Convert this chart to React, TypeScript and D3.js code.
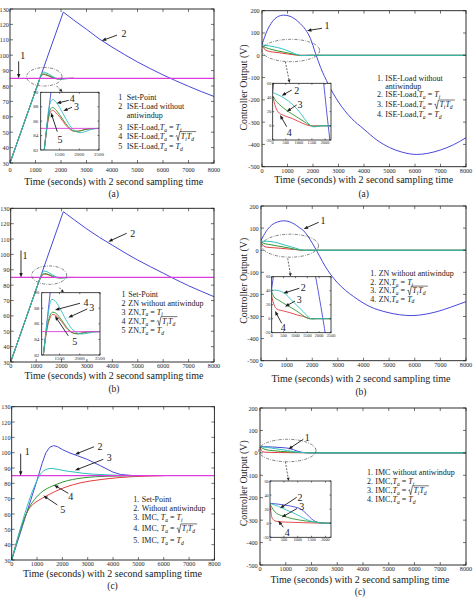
import React, { useLayoutEffect, useRef, useState } from "react";
import * as d3 from "d3";

type Pt = [number, number];
type Box = { x: number; y: number; w: number; h: number };

const FONT = "'Liberation Serif', 'Times New Roman', 'DejaVu Serif', serif";
const INK = "#1a1a1a";

// ---------------- ticks ----------------
const timeTicks = [0, 1000, 2000, 3000, 4000, 5000, 6000, 7000, 8000];
const tempTicks = [30, 40, 50, 60, 70, 80, 90, 100, 110, 120, 130];
const voltTicks = [-500, -400, -300, -200, -100, 0, 100, 200];
const tempZoomTicks = [82, 84, 86, 88, 90];
const tempZoomTimeTicks = [1500, 2000, 2500];
const voltZoomTicks = [-20, 0, 20, 40, 60];
const voltZoomTimeTicks = [0, 500, 1000, 1500, 2000];
const voltZoomTimeTicksLong = [0, 500, 1000, 1500, 2000, 2500];

// ---------------- set-point ----------------
const setPoint: Pt[] = [[0, 85], [8000, 85]];

// ---------------- (a) ISE-Load tuning ----------------
const iseTempNoAW: Pt[] = [[0, 30], [2090, 128], [2500, 122.8], [3000, 116.8], [3500, 110.6], [4000, 105.3], [4500, 100.3], [5000, 95.6], [5500, 91.3], [6000, 87.2], [6500, 83.4], [7000, 79.8], [7500, 76.4], [8000, 73.2]];
const iseTempTi: Pt[] = [[0, 30], [1000, 76.9], [1100, 81.5], [1160, 84.6], [1215, 87.3], [1265, 88.6], [1320, 89.0], [1400, 88.7], [1500, 87.9], [1650, 86.4], [1800, 85.1], [1920, 84.55], [2020, 84.4], [2150, 84.55], [2300, 84.85], [2500, 85]];
const iseTempTiTd: Pt[] = [[0, 30], [1000, 76.9], [1100, 81.5], [1160, 84.4], [1215, 86.6], [1270, 87.7], [1320, 87.9], [1400, 87.6], [1500, 86.9], [1650, 85.7], [1780, 84.9], [1880, 84.6], [1980, 84.6], [2120, 84.8], [2300, 84.95], [2500, 85]];
const iseTempTd: Pt[] = [[0, 30], [1000, 76.9], [1100, 81.5], [1160, 84.3], [1215, 86.3], [1270, 87.3], [1320, 87.5], [1400, 87.2], [1500, 86.6], [1650, 85.5], [1780, 84.8], [1880, 84.6], [1980, 84.62], [2120, 84.82], [2300, 84.95], [2500, 85]];

const iseVoltNoAW: Pt[] = [[0, 48], [200, 110], [400, 150], [600, 172], [850, 180], [1100, 175], [1300, 162], [1500, 142], [1700, 116], [1900, 75], [2100, 8], [2300, -55], [2600, -130], [3000, -210], [3500, -282], [4000, -332], [4500, -380], [5000, -414], [5500, -435], [6070, -445], [6500, -440], [7000, -425], [7500, -402], [8000, -370]];
const iseVoltTi: Pt[] = [[0, 47], [300, 42], [600, 35], [900, 25], [1100, 16], [1300, 6], [1450, 0.5], [1550, -1.5], [1700, -1], [1850, 0], [8000, 0]];
const iseVoltTiTd: Pt[] = [[0, 42], [150, 34], [350, 27], [600, 20], [900, 13], [1200, 6], [1400, 1.2], [1550, -0.8], [1700, -0.5], [1850, 0], [8000, 0]];
const iseVoltTd: Pt[] = [[0, 42], [80, 30], [200, 20], [400, 15], [700, 11], [1000, 6], [1250, 2], [1450, 0], [8000, 0]];

// ---------------- (b) Ziegler-Nichols tuning ----------------
const znTempNoAW: Pt[] = [[0, 30], [2070, 127.8], [2500, 122.5], [3000, 116.5], [3500, 111], [4000, 106], [4500, 101], [5000, 96.3], [5500, 92], [6000, 87.8], [6500, 83.6], [7000, 79.6], [7500, 76], [8000, 72.5]];
const znTempTi: Pt[] = [[0, 30], [1000, 77.25], [1110, 82.4], [1180, 85.6], [1245, 88.1], [1310, 89.15], [1380, 89.0], [1500, 88.1], [1650, 86.6], [1800, 85.4], [1950, 84.8], [2050, 84.7], [2200, 84.8], [2350, 84.95], [2500, 85]];
const znTempTiTd: Pt[] = [[0, 30], [1000, 77.25], [1110, 82.4], [1180, 85.2], [1260, 87.0], [1330, 87.5], [1400, 87.4], [1550, 86.5], [1700, 85.4], [1850, 84.8], [1950, 84.7], [2100, 84.85], [2300, 85], [2500, 85]];
const znTempTd: Pt[] = [[0, 30], [1000, 77.25], [1110, 82.4], [1180, 85.0], [1260, 86.7], [1330, 87.2], [1400, 87.1], [1550, 86.3], [1700, 85.3], [1850, 84.8], [1950, 84.75], [2100, 84.9], [2300, 85], [2500, 85]];

const znVoltNoAW: Pt[] = [[0, 44], [200, 85], [400, 112], [650, 128], [885, 133], [1100, 129], [1300, 118], [1500, 102], [1665, 88], [1850, 60], [2000, 32], [2150, 2], [2300, -30], [2500, -72], [2966, -145], [3300, -182], [3617, -210], [4265, -256], [4917, -281], [5400, -292], [5890, -296], [6400, -290], [6868, -278], [7400, -258], [8000, -233]];
const znVoltTi: Pt[] = [[0, 41], [200, 40.5], [490, 37.5], [910, 24], [1332, 10], [1615, 0.6], [1750, -0.6], [1900, 0], [8000, 0]];
const znVoltTiTd: Pt[] = [[0, 38], [100, 31], [280, 26.7], [632, 19.5], [1054, 11], [1475, 1.4], [1620, -0.3], [1800, 0], [8000, 0]];
const znVoltTd: Pt[] = [[0, 32], [100, 20], [211, 14], [500, 11], [772, 8.6], [1100, 5], [1332, 3.3], [1550, 0.5], [1700, 0], [8000, 0]];

// ---------------- (c) IMC tuning ----------------
const imcTempNoAW: Pt[] = [[0, 30], [1000, 82], [1200, 93], [1350, 100], [1500, 103.5], [1650, 104.6], [1800, 104], [2000, 102], [2300, 99.8], [2600, 98], [3000, 95.5], [3500, 91.5], [4000, 87.3], [4300, 85.8], [4700, 85.2], [5000, 85]];
const imcTempTi: Pt[] = [[0, 30], [1000, 82], [1100, 85.3], [1250, 88], [1400, 89.3], [1550, 89.7], [1800, 89.2], [2100, 88.2], [2500, 87.3], [2800, 86.6], [3200, 86.0], [3700, 85.6], [4100, 85.3], [4600, 85.05], [5000, 85]];
const imcTempTiTd: Pt[] = [[0, 30], [580, 60.2], [700, 64.5], [900, 69.5], [1200, 74.5], [1500, 77.5], [1710, 79], [2000, 80.8], [2400, 82.5], [2827, 83.6], [3300, 84.3], [4145, 84.8], [5000, 85]];
const imcTempTd: Pt[] = [[0, 30], [580, 60.2], [700, 63.8], [853, 66.5], [1050, 68.8], [1315, 71.3], [1700, 74.6], [2171, 77.8], [2700, 80.3], [3486, 82.4], [4200, 83.7], [4800, 84.4], [5500, 84.8], [6000, 85]];

const imcVoltNoAW: Pt[] = [[0, 28.3], [500, 26], [900, 23], [1100, 20.5], [1300, 14], [1450, 8], [1560, 4.3], [1750, 1], [2000, 0], [8000, 0]];
const imcVoltTi: Pt[] = [[0, 28], [300, 24], [596, 18.8], [1071, 10.3], [1300, 5.5], [1548, 2.2], [1800, 0.5], [2000, 0], [8000, 0]];
const imcVoltTiTd: Pt[] = [[0, 27], [120, 19], [238, 14], [475, 10.3], [800, 6.5], [1071, 4.5], [1548, 2], [1900, 0.5], [2100, 0], [8000, 0]];
const imcVoltTd: Pt[] = [[0, 26], [30, 17], [60, 9.3], [120, 5], [179, 3.2], [400, 2], [714, 1.4], [1200, 0.8], [1600, 0.3], [2000, 0], [8000, 0]];

// ---------------- styling ----------------
const COLOR = {
  setPoint: "#dd3cdd",
  noAW: "#4848da",
  ti: "#30c0c0",
  titd: "#2f962f",
  td: "#e23c3c",
};

type Series = { pts: Pt[]; color: string; smooth: boolean; width?: number };
type Callout = { label: string; tip: Pt; tail: [number, number]; at: [number, number]; inInset?: boolean };
type LegendItem = { n: string; text: string; eq?: "Ti" | "TiTd" | "Td" };
type Inset = { box: Box; xDomain: [number, number]; yDomain: [number, number]; xTicks: number[]; yTicks: number[]; font: number; xLabelDy: number; yLabelGap: number };
type PanelSpec = {
  plot: Box;
  yDomain: [number, number];
  yTicks: number[];
  xLabelDy: number;
  yLabelGap: number;
  series: Series[];
  inset?: Inset;
  lens?: { c: Pt; r: Pt; from: [number, number]; to: [number, number] };
  callouts: Callout[];
  legend: { nx: number; tx: number; ys: number[]; items: LegendItem[] };
  title: [number, number];
  tag: { text: string; x: number; y: number };
  yLabel?: [number, number];
};

const tempSeries = (noAW: Pt[], ti: Pt[], titd: Pt[], td: Pt[]): Series[] => [
  { pts: noAW, color: COLOR.noAW, smooth: false },
  { pts: td, color: COLOR.td, smooth: true },
  { pts: titd, color: COLOR.titd, smooth: true },
  { pts: ti, color: COLOR.ti, smooth: true },
  { pts: setPoint, color: COLOR.setPoint, smooth: false, width: 1.2 },
];
const voltSeries = (noAW: Pt[], ti: Pt[], titd: Pt[], td: Pt[]): Series[] => [
  { pts: noAW, color: COLOR.noAW, smooth: true },
  { pts: td, color: COLOR.td, smooth: true },
  { pts: titd, color: COLOR.titd, smooth: true },
  { pts: ti, color: COLOR.ti, smooth: true },
];

const panels: PanelSpec[] = [
  {
    plot: { x: 10, y: 9, w: 204, h: 154 },
    yDomain: [30, 130], yTicks: tempTicks, xLabelDy: 8.8, yLabelGap: 1.2,
    series: tempSeries(iseTempNoAW, iseTempTi, iseTempTiTd, iseTempTd),
    inset: { box: { x: 40.7, y: 92.3, w: 58.3, h: 57.7 }, xDomain: [1020, 2500], yDomain: [82, 90], xTicks: tempZoomTimeTicks, yTicks: tempZoomTicks, font: 5, xLabelDy: 6.2, yLabelGap: 2.5 },
    lens: { c: [1345, 86], r: [694, 6.0], from: [12.4, 9.3], to: [18.2, 15.3] },
    callouts: [
      { label: "1", tip: [340, 85], tail: [0, -17], at: [4, -23.3] },
      { label: "2", tip: [3600, 109.4], tail: [15.2, -5.6], at: [22.2, -7.6] },
      { label: "4", tip: [1426, 88.47], tail: [12, -3], at: [15.5, -4.5], inInset: true },
      { label: "3", tip: [1594, 87.4], tail: [8.7, -3.8], at: [13.2, -4.5], inInset: true },
      { label: "5", tip: [1281, 87.17], tail: [6.3, 19], at: [9, 26.6], inInset: true },
    ],
    legend: {
      nx: 118.3, tx: 126.7, ys: [99.8, 108.8, 117.8, 129.8, 138.8, 148.8],
      items: [
        { n: "1", text: "Set-Point" },
        { n: "2", text: "ISE-Load without" },
        { n: "", text: "antiwindup" },
        { n: "3", text: "ISE-Load,", eq: "Ti" },
        { n: "4", text: "ISE-Load,", eq: "TiTd" },
        { n: "5", text: "ISE-Load,", eq: "Td" },
      ],
    },
    title: [113.7, 184.5],
    tag: { text: "(a)", x: 113.7, y: 196.5 },
  },
  {
    plot: { x: 262, y: 10.7, w: 204, h: 156 },
    yDomain: [-500, 200], yTicks: voltTicks, xLabelDy: 6.4, yLabelGap: 2.3,
    series: voltSeries(iseVoltNoAW, iseVoltTi, iseVoltTiTd, iseVoltTd),
    inset: { box: { x: 272.7, y: 83.3, w: 58.3, h: 56.7 }, xDomain: [0, 2230], yDomain: [-20, 60], xTicks: voltZoomTimeTicks, yTicks: voltZoomTicks, font: 4.3, xLabelDy: 4, yLabelGap: 1.3 },
    lens: { c: [1131, 21.4], r: [1131, 50.2], from: [-5.5, 11.2], to: [-1.2, 32.5] },
    callouts: [
      { label: "1", tip: [1765, 110.3], tail: [15, -2.4], at: [20, -4.7] },
      { label: "2", tip: [344, 42.5], tail: [10, -5.7], at: [15, -5.7], inInset: true },
      { label: "3", tip: [535, 20], tail: [10, -6.7], at: [13.3, -7.4], inInset: true },
      { label: "4", tip: [279, 15.3], tail: [6.7, 11.7], at: [9.3, 17.3], inInset: true },
    ],
    legend: {
      nx: 377, tx: 385.3, ys: [80.8, 88.9, 97.4, 107.2, 117.1],
      items: [
        { n: "1.", text: "ISE-Load without" },
        { n: "", text: "antiwindup" },
        { n: "2.", text: "ISE-Load,", eq: "Ti" },
        { n: "3.", text: "ISE-Load,", eq: "TiTd" },
        { n: "4.", text: "ISE-Load,", eq: "Td" },
      ],
    },
    title: [363.7, 183.4],
    tag: { text: "(a)", x: 363.7, y: 196.5 },
    yLabel: [243.7, 87.5],
  },
  {
    plot: { x: 10.7, y: 208.3, w: 203.3, h: 153.7 },
    yDomain: [30, 130], yTicks: tempTicks, xLabelDy: 6.2, yLabelGap: 1.2,
    series: tempSeries(znTempNoAW, znTempTi, znTempTiTd, znTempTd),
    inset: { box: { x: 41.7, y: 292.7, w: 58.3, h: 62.3 }, xDomain: [1060, 2500], yDomain: [82, 90], xTicks: tempZoomTimeTicks, yTicks: tempZoomTicks, font: 5, xLabelDy: 5, yLabelGap: 2.5 },
    lens: { c: [1515, 86.5], r: [689, 6.0], from: [10.1, 12.5], to: [14.8, 17.5] },
    callouts: [
      { label: "1", tip: [405, 85], tail: [0, -27], at: [4, -22] },
      { label: "2", tip: [3841, 108.3], tail: [18.4, -8.4], at: [24.4, -8.4] },
      { label: "4", tip: [1388, 87.78], tail: [25, -6.7], at: [31, -7.3], inInset: true },
      { label: "3", tip: [1717, 86.8], tail: [19, -8.7], at: [23.4, -10], inInset: true },
      { label: "5", tip: [1388, 87.0], tail: [13.3, 19.7], at: [19.7, 25.7], inInset: true },
    ],
    legend: {
      nx: 121.5, tx: 128.3, ys: [296.8, 305.8, 314.5, 323.8, 332.8],
      items: [
        { n: "1", text: "Set-Point" },
        { n: "2", text: "ZN without antiwindup" },
        { n: "3", text: "ZN,", eq: "Ti" },
        { n: "4", text: "ZN,", eq: "TiTd" },
        { n: "5", text: "ZN,", eq: "Td" },
      ],
    },
    title: [114, 379.2],
    tag: { text: "(b)", x: 114, y: 391.8 },
  },
  {
    plot: { x: 261, y: 206, w: 205, h: 154.7 },
    yDomain: [-500, 200], yTicks: voltTicks, xLabelDy: 5.8, yLabelGap: 2.3,
    series: voltSeries(znVoltNoAW, znVoltTi, znVoltTiTd, znVoltTd),
    inset: { box: { x: 271.7, y: 276.7, w: 59.3, h: 56 }, xDomain: [0, 2500], yDomain: [-20, 60], xTicks: voltZoomTimeTicksLong, yTicks: voltZoomTicks, font: 4.3, xLabelDy: 4, yLabelGap: 1.3 },
    lens: { c: [1140, 20.4], r: [1104, 52], from: [-2.5, 12.6], to: [0.5, 30.8] },
    callouts: [
      { label: "1", tip: [1666, 96], tail: [15, -6.7], at: [19.3, -8] },
      { label: "2", tip: [489, 36.3], tail: [16, -5], at: [20, -5.6], inInset: true },
      { label: "3", tip: [561, 17.1], tail: [10, -5.7], at: [14.3, -7.4], inInset: true },
      { label: "4", tip: [139, 11], tail: [6.7, 12.3], at: [8.3, 16.7], inInset: true },
    ],
    legend: {
      nx: 370.3, tx: 378.7, ys: [276.3, 284.8, 293.3, 301.6],
      items: [
        { n: "1.", text: "ZN without antiwindup" },
        { n: "2.", text: "ZN,", eq: "Ti" },
        { n: "3.", text: "ZN,", eq: "TiTd" },
        { n: "4.", text: "ZN,", eq: "Td" },
      ],
    },
    title: [361, 381.8],
    tag: { text: "(b)", x: 361, y: 395.2 },
    yLabel: [243.7, 280.8],
  },
  {
    plot: { x: 11.7, y: 406.7, w: 202.7, h: 153.3 },
    yDomain: [30, 130], yTicks: tempTicks, xLabelDy: 6.2, yLabelGap: 1.2,
    series: tempSeries(imcTempNoAW, imcTempTi, imcTempTiTd, imcTempTd),
    callouts: [
      { label: "1", tip: [355, 85], tail: [0, -22], at: [6.6, -24] },
      { label: "2", tip: [2498, 98.9], tail: [19, -7.6], at: [25, -8.3] },
      { label: "3", tip: [2498, 88.5], tail: [28.3, -11], at: [34.3, -12.6] },
      { label: "4", tip: [1670, 78.9], tail: [14.3, 8.3], at: [16.7, 11] },
      { label: "5", tip: [1248, 72], tail: [14, 9.3], at: [19.4, 13.6] },
    ],
    legend: {
      nx: 133.3, tx: 141.7, ys: [502.1, 511.1, 520.1, 531.1, 542.8],
      items: [
        { n: "1.", text: "Set-Point" },
        { n: "2.", text: "Without antiwindup" },
        { n: "3.", text: "IMC, ", eq: "Ti" },
        { n: "4.", text: "IMC, ", eq: "TiTd" },
        { n: "5.", text: "IMC, ", eq: "Td" },
      ],
    },
    title: [112.5, 577.2],
    tag: { text: "(c)", x: 112.5, y: 588.8 },
  },
  {
    plot: { x: 260, y: 408, w: 206, h: 157 },
    yDomain: [-500, 200], yTicks: voltTicks, xLabelDy: 6.4, yLabelGap: 2.3,
    series: voltSeries(imcVoltNoAW, imcVoltTi, imcVoltTiTd, imcVoltTd),
    inset: { box: { x: 270, y: 481, w: 61, h: 56.3 }, xDomain: [0, 2200], yDomain: [-20, 60], xTicks: voltZoomTimeTicks, yTicks: voltZoomTicks, font: 4.3, xLabelDy: 4, yLabelGap: 1.3 },
    lens: { c: [1062, 10.5], r: [1113, 50], from: [-2, 11.2], to: [1.35, 30.5] },
    callouts: [
      { label: "1", tip: [1099, 15.9], tail: [15, -10], at: [19, -12] },
      { label: "2", tip: [361, 21.2], tail: [16.7, -11], at: [20, -11], inInset: true },
      { label: "3", tip: [422, 8.4], tail: [15.6, -9], at: [20, -10.6], inInset: true },
      { label: "4", tip: [299, 3.6], tail: [5, 6.6], at: [9, 12], inInset: true },
    ],
    legend: {
      nx: 367, tx: 375.3, ys: [475.2, 484.4, 493.0, 501.8],
      items: [
        { n: "1.", text: "IMC without antiwindup" },
        { n: "2.", text: "IMC,", eq: "Ti" },
        { n: "3.", text: "IMC,", eq: "TiTd" },
        { n: "4.", text: "IMC,", eq: "Td" },
      ],
    },
    title: [360, 582.6],
    tag: { text: "(c)", x: 360, y: 594.8 },
    yLabel: [243.7, 483.3],
  },
];

type Scale = d3.ScaleLinear<number, number>;

function seriesPath(s: Series, x: Scale, y: Scale) {
  return d3
    .line<Pt>()
    .x((d) => x(d[0]))
    .y((d) => y(d[1]))
    .curve(s.smooth ? d3.curveMonotoneX : d3.curveLinear)(s.pts) || "";
}

function ArrowLine(props: { x1: number; y1: number; x2: number; y2: number; color: string; width: number; head: number; spread: number; dash?: string }) {
  const { x1, y1, x2, y2, color, width, head, spread, dash } = props;
  const len = Math.hypot(x2 - x1, y2 - y1) || 1;
  const ux = (x2 - x1) / len;
  const uy = (y2 - y1) / len;
  const bx = x2 - ux * head;
  const by = y2 - uy * head;
  const nx = (-uy * spread) / 2;
  const ny = (ux * spread) / 2;
  return (
    <g>
      <line x1={x1} y1={y1} x2={bx + ux * 0.6} y2={by + uy * 0.6} stroke={color} strokeWidth={width} strokeDasharray={dash} />
      <polygon points={`${x2},${y2} ${bx + nx},${by + ny} ${bx - nx},${by - ny}`} fill={color} />
    </g>
  );
}

function Frame(props: { box: Box; x: Scale; y: Scale; xTicks: number[]; yTicks: number[]; tick: number; font: number; xLabelDy: number; yLabelGap: number; stroke: number }) {
  const { box, x, y, xTicks, yTicks, tick, font, xLabelDy, yLabelGap, stroke } = props;
  const bottom = box.y + box.h;
  const right = box.x + box.w;
  return (
    <g>
      {xTicks.map((t) => (
        <g key={`x${t}`}>
          <line x1={x(t)} x2={x(t)} y1={bottom} y2={bottom - tick} stroke={INK} strokeWidth={0.6} />
          <line x1={x(t)} x2={x(t)} y1={box.y} y2={box.y + tick} stroke={INK} strokeWidth={0.6} />
          <text x={x(t)} y={bottom + xLabelDy} fontSize={font} textAnchor="middle" fill="#2a2a2a">{String(t)}</text>
        </g>
      ))}
      {yTicks.map((v) => (
        <g key={`y${v}`}>
          <line x1={box.x} x2={box.x + tick} y1={y(v)} y2={y(v)} stroke={INK} strokeWidth={0.6} />
          <line x1={right} x2={right - tick} y1={y(v)} y2={y(v)} stroke={INK} strokeWidth={0.6} />
          <text x={box.x - yLabelGap} y={y(v)} fontSize={font} textAnchor="end" dominantBaseline="central" fill="#2a2a2a">{String(v)}</text>
        </g>
      ))}
      <rect x={box.x} y={box.y} width={box.w} height={box.h} fill="none" stroke={INK} strokeWidth={stroke} />
    </g>
  );
}

function CalloutMark({ c, x, y }: { c: Callout; x: Scale; y: Scale }) {
  const tx = x(c.tip[0]);
  const ty = y(c.tip[1]);
  return (
    <g>
      <ArrowLine x1={tx + c.tail[0]} y1={ty + c.tail[1]} x2={tx} y2={ty} color={INK} width={0.9} head={4.4} spread={3.4} />
      <text x={tx + c.at[0]} y={ty + c.at[1]} fontSize={10} textAnchor="middle" dominantBaseline="central" fill={INK}>{c.label}</text>
    </g>
  );
}

const LEG_SIZE = 8;
const RAD_GAP = 5.2;

function LegendRow({ item, nx, tx, y }: { item: LegendItem; nx: number; tx: number; y: number }) {
  const ref = useRef<SVGTextElement>(null);
  const [radical, setRadical] = useState("");
  const size = LEG_SIZE;
  const sub = size * 0.7;
  const shift = size * 0.22;
  useLayoutEffect(() => {
    const el = ref.current;
    if (!el || item.eq !== "TiTd") return;
    const k = item.text.length + 5;
    const n = el.getNumberOfChars();
    const start = el.getStartPositionOfChar(k).x;
    const end = el.getEndPositionOfChar(n - 1).x;
    const g = start - RAD_GAP;
    const top = y - size * 0.9;
    setRadical(
      `M${g + 0.3},${y - size * 0.3} L${g + 1.2},${y - size * 0.42} L${g + 2.5},${y + size * 0.22} L${g + 4.3},${top} L${end + 2.2},${top}`
    );
  }, [item, y]);
  const subT = (s: string) => (
    <tspan fontStyle="italic" fontSize={sub} dy={shift}>{s}</tspan>
  );
  return (
    <g fill={INK}>
      {item.n && <text x={nx} y={y} fontSize={size}>{item.n}</text>}
      <text ref={ref} x={tx} y={y} fontSize={size}>
        <tspan>{item.text}</tspan>
        {item.eq && (
          <>
            <tspan fontStyle="italic">T</tspan>
            {subT("a")}
            <tspan dy={-shift}>{" = "}</tspan>
            {item.eq === "TiTd" ? (
              <>
                <tspan fontStyle="italic" dx={RAD_GAP}>T</tspan>
                {subT("i")}
                <tspan fontStyle="italic" dy={-shift}>T</tspan>
                {subT("d")}
              </>
            ) : (
              <>
                <tspan fontStyle="italic">T</tspan>
                {subT(item.eq === "Ti" ? "i" : "d")}
              </>
            )}
          </>
        )}
      </text>
      {radical && <path d={radical} fill="none" stroke={INK} strokeWidth={0.6} />}
    </g>
  );
}

function Panel({ spec, id }: { spec: PanelSpec; id: string }) {
  const { plot, inset, lens } = spec;
  const x = d3.scaleLinear().domain([0, 8000]).range([plot.x, plot.x + plot.w]);
  const y = d3.scaleLinear().domain(spec.yDomain).range([plot.y + plot.h, plot.y]);
  const ix = inset ? d3.scaleLinear().domain(inset.xDomain).range([inset.box.x, inset.box.x + inset.box.w]) : x;
  const iy = inset ? d3.scaleLinear().domain(inset.yDomain).range([inset.box.y + inset.box.h, inset.box.y]) : y;

  let lensMark = null;
  if (lens) {
    const cx = x(lens.c[0]);
    const cy = y(lens.c[1]);
    const rx = x(lens.c[0] + lens.r[0]) - cx;
    const ry = cy - y(lens.c[1] + lens.r[1]);
    lensMark = (
      <g>
        <ellipse cx={cx} cy={cy} rx={rx} ry={ry} fill="none" stroke="#4a4a4a" strokeWidth={0.7} strokeDasharray="3 1.3 0.8 1.3" />
        <ArrowLine x1={cx + lens.from[0]} y1={cy + lens.from[1]} x2={cx + lens.to[0]} y2={cy + lens.to[1]} color="#2a2a2a" width={0.7} head={3.4} spread={3} dash="2 1.3" />
      </g>
    );
  }

  return (
    <g>
      <defs>
        <clipPath id={`${id}-main`}>
          <rect x={plot.x} y={plot.y} width={plot.w} height={plot.h} />
        </clipPath>
        {inset && (
          <clipPath id={`${id}-inset`}>
            <rect x={inset.box.x} y={inset.box.y} width={inset.box.w} height={inset.box.h} />
          </clipPath>
        )}
      </defs>
      <g clipPath={`url(#${id}-main)`}>
        {spec.series.map((s, i) => (
          <path key={i} d={seriesPath(s, x, y)} fill="none" stroke={s.color} strokeWidth={s.width ?? 1} />
        ))}
      </g>
      <Frame box={plot} x={x} y={y} xTicks={timeTicks} yTicks={spec.yTicks} tick={3} font={6.2} xLabelDy={spec.xLabelDy} yLabelGap={spec.yLabelGap} stroke={0.9} />
      {lensMark}
      {spec.callouts.filter((c) => !c.inInset).map((c, i) => (
        <CalloutMark key={`m${i}`} c={c} x={x} y={y} />
      ))}
      {inset && (
        <g>
          <rect x={inset.box.x} y={inset.box.y} width={inset.box.w} height={inset.box.h} fill="#fff" />
          <g clipPath={`url(#${id}-inset)`}>
            {spec.series.map((s, i) => (
              <path key={i} d={seriesPath(s, ix, iy)} fill="none" stroke={s.color} strokeWidth={0.9} />
            ))}
          </g>
          <Frame box={inset.box} x={ix} y={iy} xTicks={inset.xTicks} yTicks={inset.yTicks} tick={1.5} font={inset.font} xLabelDy={inset.xLabelDy} yLabelGap={inset.yLabelGap} stroke={0.8} />
          {spec.callouts.filter((c) => c.inInset).map((c, i) => (
            <CalloutMark key={`i${i}`} c={c} x={ix} y={iy} />
          ))}
        </g>
      )}
      {spec.legend.items.map((it, i) => (
        <LegendRow key={i} item={it} nx={spec.legend.nx} tx={spec.legend.tx} y={spec.legend.ys[i]} />
      ))}
      <text x={spec.title[0]} y={spec.title[1]} fontSize={10} textAnchor="middle" fill={INK}>
        Time (seconds) with 2 second sampling time
      </text>
      <text x={spec.tag.x} y={spec.tag.y} fontSize={9.5} textAnchor="middle" fill={INK}>{spec.tag.text}</text>
      {spec.yLabel && (
        <text transform={`translate(${spec.yLabel[0]},${spec.yLabel[1]}) rotate(-90)`} fontSize={9.8} textAnchor="middle" dominantBaseline="central" fill={INK}>
          Controller Output (V)
        </text>
      )}
    </g>
  );
}

export default function App() {
  return (
    <svg width={474} height={602} viewBox="0 0 474 602" style={{ position: "absolute", left: 0, top: 0, background: "#fff", fontFamily: FONT }}>
      <rect width={474} height={602} fill="#fff" />
      {panels.map((p, i) => (
        <Panel key={i} id={`panel${i}`} spec={p} />
      ))}
    </svg>
  );
}
